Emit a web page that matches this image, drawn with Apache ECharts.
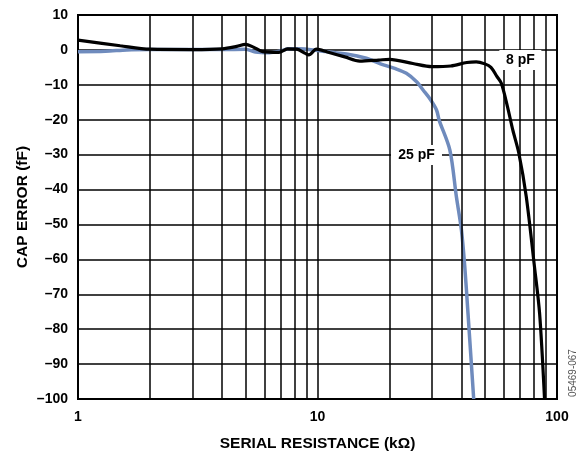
<!DOCTYPE html>
<html>
<head>
<meta charset="utf-8">
<script src="https://cdn.jsdelivr.net/npm/echarts@6/dist/echarts.min.js"></script>
<style>
  html, body { margin: 0; padding: 0; background: #fff; }
  #chart { width: 586px; height: 455px; }
</style>
</head>
<body>
<div id="chart"></div>
<script>
// 8 pF 곡선 (x: kΩ, y: fF)
var pf8 = [
  [1, 2.8], [1.5, 1.2], [2, 0.2], [3, 0.1], [4, 0.3], [4.6, 1.0], [5.0, 1.6], [5.4, 0.8],
  [5.9, -0.5], [6.9, -0.7], [7.5, 0.3], [8.2, 0.2], [8.9, -1.0], [9.2, -1.4], [9.9, 0.2],
  [11, -0.6], [13, -2.0], [15, -3.2], [18, -2.9], [20, -2.7], [25, -3.9], [30, -4.8],
  [36, -4.6], [42, -3.6], [46, -3.4], [50, -4.0], [53, -5.0], [56, -7.5], [58.5, -9.5],
  [62, -16], [65.4, -23], [69.3, -29.6], [74.4, -42], [80.5, -62], [84.6, -75.5], [88.7, -100]
];

// 25 pF 곡선
var pf25 = [
  [1, -0.5], [1.3, -0.4], [1.6, 0], [2, 0.1], [3, 0.1], [4, 0.1], [5, 0.2], [5.5, -0.6],
  [6.3, -0.8], [7, -0.3], [7.6, 0.3], [8.4, 0.3], [10, -0.2], [13.2, -1.2], [16, -2.4],
  [18.2, -3.9], [21, -5.3], [23.5, -6.7], [26, -9.2], [27.6, -11.5], [29.6, -14.2],
  [31.4, -17.2], [32.2, -20.1], [35.7, -28.7], [38, -42], [39.9, -51.6], [41.2, -62.1],
  [42.5, -75.5], [44.9, -100]
];

var minorX = [2, 3, 4, 5, 6, 7, 8, 9, 20, 30, 40, 50, 60, 70, 80, 90];
var xTicks = [1, 10, 100];
var yTicks = [10, 0, -10, -20, -30, -40, -50, -60, -70, -80, -90, -100];
var labels = [
  { name: '8 pF', coord: [70.3, -2.9] },
  { name: '25 pF', coord: [25.9, -30.1] }
];

var font = 'Liberation Sans, Arial, sans-serif';

var myChart = echarts.init(document.getElementById('chart'));

function labelPoint(item) {
  return {
    coord: item.coord,
    symbol: 'rect',
    symbolSize: [item.name.length * 9 + 6, 20],
    itemStyle: { color: '#fff' },
    label: {
      show: true,
      position: 'inside',
      formatter: item.name,
      color: '#000',
      fontFamily: font,
      fontWeight: 'bold',
      fontSize: 14
    }
  };
}

var option = {
  animation: false,
  backgroundColor: '#fff',
  grid: {
    left: 78,
    right: 29,
    top: 15,
    bottom: 56,
    outerBoundsMode: 'none',
    containLabel: false,
    show: true,
    borderColor: '#000',
    borderWidth: 2,
    backgroundColor: 'transparent'
  },
  xAxis: {
    type: 'log',
    logBase: 10,
    min: 1,
    max: 100,
    name: 'SERIAL RESISTANCE (kΩ)',
    nameLocation: 'middle',
    nameGap: 37,
    nameMoveOverlap: false,
    nameTextStyle: { fontFamily: font, fontWeight: 'bold', fontSize: 15.5, color: '#000' },
    axisLine: { show: false },
    axisTick: { show: false },
    axisLabel: {
      fontFamily: font, fontWeight: 'bold', fontSize: 14, color: '#000', margin: 11,
      formatter: function (v) { return xTicks.indexOf(v) >= 0 ? String(v) : ''; }
    },
    splitLine: { show: true, lineStyle: { color: '#000', width: 1.5 } }
  },
  yAxis: {
    type: 'value',
    min: -100,
    max: 10,
    interval: 10,
    name: 'CAP ERROR (fF)',
    nameLocation: 'middle',
    nameGap: 47,
    nameMoveOverlap: false,
    nameRotate: 90,
    nameTextStyle: { fontFamily: font, fontWeight: 'bold', fontSize: 15.5, color: '#000' },
    axisLine: { show: false },
    axisTick: { show: false },
    axisLabel: {
      fontFamily: font, fontWeight: 'bold', fontSize: 14, color: '#000', margin: 10,
      formatter: function (v) { return yTicks.indexOf(v) >= 0 ? String(v).replace('-', '\u2013') : ''; }
    },
    splitLine: { show: true, lineStyle: { color: '#000', width: 1.5 } }
  },
  series: [
    {
      name: 'grid',
      type: 'line',
      data: [],
      silent: true,
      z: 1,
      markLine: {
        silent: true,
        symbol: 'none',
        label: { show: false },
        lineStyle: { color: '#000', width: 1.5, type: 'solid' },
        data: minorX.map(function (v) { return { xAxis: v }; })
      }
    },
    {
      name: '25 pF',
      type: 'line',
      data: pf25,
      smooth: 0.3,
      showSymbol: false,
      z: 3,
      lineStyle: { color: '#6f8bbd', width: 3.5 },
      markPoint: { silent: true, data: [labelPoint(labels[1])] }
    },
    {
      name: '8 pF',
      type: 'line',
      data: pf8,
      smooth: 0.3,
      showSymbol: false,
      z: 4,
      lineStyle: { color: '#000', width: 3.2 },
      markPoint: { silent: true, data: [labelPoint(labels[0])] }
    }
  ],
  graphic: [{
    type: 'text',
    x: 573,
    y: 373,
    rotation: Math.PI / 2,
    style: {
      text: '05469-067',
      fill: '#555',
      font: '10px ' + font,
      textAlign: 'center',
      textVerticalAlign: 'middle'
    }
  }]
};

myChart.setOption(option);

window.addEventListener('resize', function () {
  myChart.resize();
});
</script>
</body>
</html>
